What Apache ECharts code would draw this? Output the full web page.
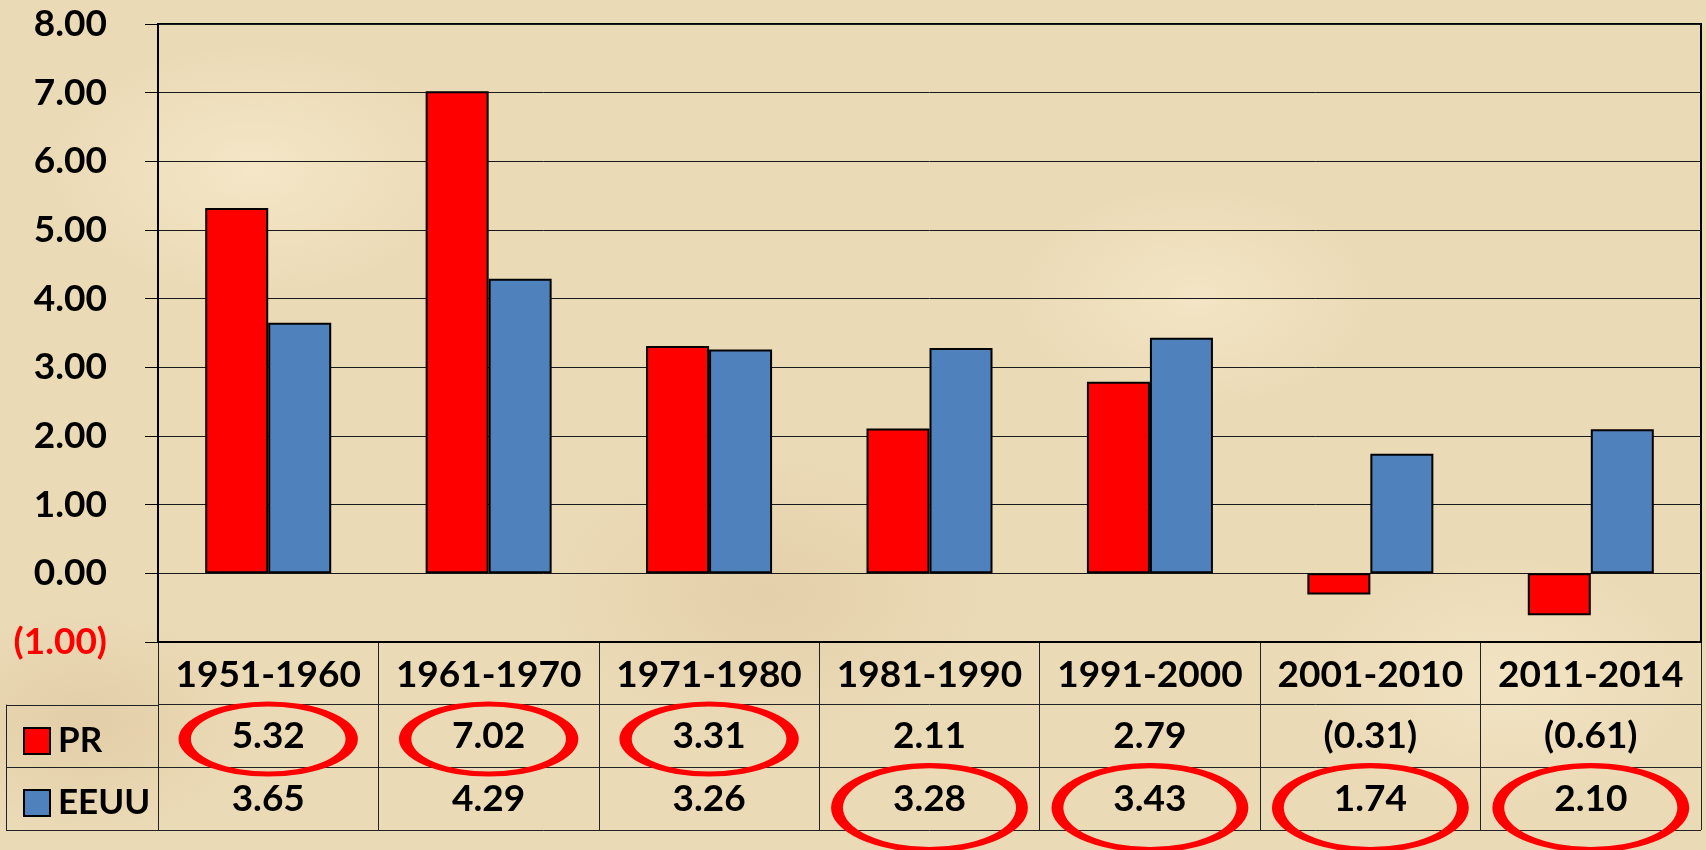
<!DOCTYPE html>
<html>
<head>
<meta charset="utf-8">
<script src="https://cdn.jsdelivr.net/npm/echarts@6/dist/echarts.min.js"></script>
<style>
  html, body { margin: 0; padding: 0; }
  body {
    width: 1706px; height: 850px; overflow: hidden;
    background-color: #ebdab6;
    background-image:
      radial-gradient(ellipse 300px 180px at 15% 20%, rgba(255,245,220,0.45), rgba(255,245,220,0) 70%),
      radial-gradient(ellipse 260px 160px at 70% 35%, rgba(255,245,220,0.40), rgba(255,245,220,0) 70%),
      radial-gradient(ellipse 320px 200px at 45% 70%, rgba(205,180,135,0.25), rgba(205,180,135,0) 70%),
      radial-gradient(ellipse 280px 180px at 88% 80%, rgba(255,245,220,0.35), rgba(255,245,220,0) 70%),
      radial-gradient(ellipse 240px 160px at 5% 85%, rgba(205,180,135,0.30), rgba(205,180,135,0) 70%);
  }
  #chart { width: 1706px; height: 850px; }
</style>
</head>
<body>
<div id="chart"></div>
<script>
// ---- data ----
var categories = ['1951-1960', '1961-1970', '1971-1980', '1981-1990', '1991-2000', '2001-2010', '2011-2014'];
var prValues   = [5.32, 7.02, 3.31, 2.11, 2.79, -0.31, -0.61];
var usValues   = [3.65, 4.29, 3.26, 3.28, 3.43, 1.74, 2.10];
var prCircled  = [true, true, true, false, false, false, false];
var usCircled  = [false, false, false, true, true, true, true];
var seriesNames = ['PR', 'EEUU'];
var yMin = -1, yMax = 8, yStep = 1;

// ---- helpers ----
function fmt(v) {
  return v < 0 ? '(' + Math.abs(v).toFixed(2) + ')' : v.toFixed(2);
}
var FONT = 'Lato, "Open Sans", "Liberation Sans", sans-serif';
var FS = 37;
var RED = '#ff0000', BLUE = '#4f81bd';
var PR_ROW = 1.5, US_ROW = 0.5; // table rows (0..3 axis, top row = header)

function textRow(values, row) {
  return values.map(function (v, i) { return { value: [i, row], raw: v }; });
}
function ellipseRow(flags, row) {
  var out = [];
  flags.forEach(function (f, i) { if (f) out.push([i, row]); });
  return out;
}

var chart = echarts.init(document.getElementById('chart'), null, { renderer: 'canvas' });

var option = {
  backgroundColor: 'transparent',
  animation: false,
  textStyle: { fontFamily: FONT },
  legend: {
    data: seriesNames,
    orient: 'vertical',
    left: 18,
    top: 718,
    itemWidth: 26,
    itemHeight: 26,
    itemGap: 26,
    icon: 'rect',
    selectedMode: false,
    textStyle: { fontFamily: FONT, fontSize: 35, fontWeight: 'bold', color: '#000', lineHeight: 36, padding: [0, 0, 0, 3] }
  },
  grid: [
    { left: 158, right: 5, top: 24, bottom: 208, show: true, borderColor: '#000', borderWidth: 2, backgroundColor: 'transparent' },
    { left: 158, right: 5, top: 642, bottom: 20 },
    { left: 6, width: 152, top: 705, bottom: 20 }
  ],
  xAxis: [
    {
      gridIndex: 0, type: 'category', data: categories,
      axisLine: { onZero: false, lineStyle: { color: '#000', width: 2 } },
      axisTick: { show: false },
      axisLabel: { margin: 15, fontFamily: FONT, fontSize: FS, fontWeight: 'bold', color: '#000', lineHeight: 36, interval: 0 },
      splitLine: { show: false }
    },
    {
      gridIndex: 1, type: 'category', data: categories,
      axisLine: { show: false }, axisTick: { show: false }, axisLabel: { show: false },
      splitLine: { show: true, interval: 0, lineStyle: { color: '#222', width: 1 } }
    },
    {
      gridIndex: 2, type: 'value', min: 0, max: 1,
      axisLine: { show: false }, axisTick: { show: false }, axisLabel: { show: false }, splitLine: { show: false }
    }
  ],
  yAxis: [
    {
      gridIndex: 0, type: 'value', min: yMin, max: yMax, interval: yStep,
      axisLine: { show: true, lineStyle: { color: '#000', width: 2 } },
      axisTick: { show: true, length: 13, lineStyle: { color: '#000', width: 1 } },
      axisLabel: {
        margin: 51, fontFamily: FONT, fontSize: FS, fontWeight: 'bold', color: '#000',
        formatter: function (v) { return v < 0 ? '{neg|' + fmt(v) + '}' : fmt(v); },
        rich: { neg: { color: RED, fontFamily: FONT, fontSize: FS, fontWeight: 'bold' } }
      },
      splitLine: { show: true, lineStyle: { color: '#1a1a1a', width: 1 } }
    },
    {
      gridIndex: 1, type: 'value', min: 0, max: 3, interval: 1,
      axisLine: { show: true, lineStyle: { color: '#222', width: 1 } },
      axisTick: { show: false }, axisLabel: { show: false },
      splitLine: { show: true, lineStyle: { color: '#222', width: 1 } }
    },
    {
      gridIndex: 2, type: 'value', min: 0, max: 2, interval: 1,
      axisLine: { show: true, lineStyle: { color: '#222', width: 1 } },
      axisTick: { show: false }, axisLabel: { show: false },
      splitLine: { show: true, lineStyle: { color: '#222', width: 1 } }
    }
  ],
  series: [
    {
      name: 'PR', type: 'bar', xAxisIndex: 0, yAxisIndex: 0, data: prValues,
      barWidth: 63, barGap: '0%',
      itemStyle: { color: RED, borderColor: '#000', borderWidth: 2 }
    },
    {
      name: 'EEUU', type: 'bar', xAxisIndex: 0, yAxisIndex: 0, data: usValues,
      barWidth: 63, barGap: '0%',
      itemStyle: { color: BLUE, borderColor: '#000', borderWidth: 2 }
    },
    // table values
    {
      type: 'scatter', xAxisIndex: 1, yAxisIndex: 1, silent: true, clip: false,
      data: textRow(prValues, PR_ROW).concat(textRow(usValues, US_ROW)),
      symbolSize: 1, itemStyle: { color: 'transparent', opacity: 1 },
      label: {
        show: true, position: 'inside', fontFamily: FONT, fontSize: FS, fontWeight: 'bold', color: '#000', opacity: 1,
        formatter: function (p) { return fmt(p.data.raw); }
      },
      z: 5
    },
    // red ellipses, PR row
    {
      type: 'scatter', xAxisIndex: 1, yAxisIndex: 1, silent: true, clip: false,
      data: ellipseRow(prCircled, PR_ROW),
      symbol: 'circle', symbolSize: [167, 70], symbolOffset: [0, 3],
      itemStyle: { color: 'transparent', borderColor: RED, borderWidth: 8, opacity: 1 },
      z: 6
    },
    // red ellipses, EEUU row
    {
      type: 'scatter', xAxisIndex: 1, yAxisIndex: 1, silent: true, clip: false,
      data: ellipseRow(usCircled, US_ROW),
      symbol: 'circle', symbolSize: [185, 84], symbolOffset: [0, 9],
      itemStyle: { color: 'transparent', borderColor: RED, borderWidth: 8, opacity: 1 },
      z: 6
    }
  ]
};
chart.setOption(option);
</script>
</body>
</html>
